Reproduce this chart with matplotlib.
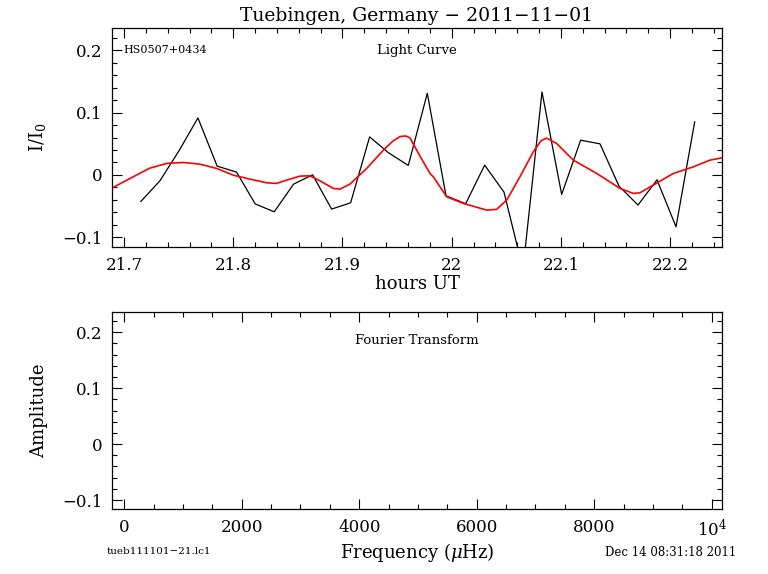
import matplotlib
matplotlib.use("Agg")
import matplotlib.pyplot as plt
from matplotlib.ticker import MultipleLocator, FixedLocator

plt.rcParams['font.family'] = 'DejaVu Serif'
plt.rcParams['mathtext.fontset'] = 'dejavuserif'

# light curve samples (hours UT, I/I0)
lc_time = [21.7155, 21.7329, 21.7503, 21.7677, 21.7853, 21.8031, 21.8201, 21.8375,
           21.8553, 21.8727, 21.8901, 21.9075, 21.9249, 21.9423, 21.9603, 21.9777,
           21.9948, 22.0128, 22.0302, 22.0479, 22.0653, 22.0827, 22.1007, 22.1181,
           22.1358, 22.1532, 22.1706, 22.1880, 22.2054, 22.2225]
lc_flux = [-0.0427, -0.0096, 0.0385, 0.0915, 0.0140, 0.0043, -0.0467, -0.0595,
           -0.0149, 0.0000, -0.0551, -0.0449, 0.0610, 0.0353, 0.0151, 0.1311,
           -0.0337, -0.0465, 0.0156, -0.0278, -0.1520, 0.1332, -0.0315, 0.0557,
           0.0498, -0.0181, -0.0486, -0.0080, -0.0835, 0.0851]

# smoothed fit (red)
fit_time = [21.6901, 21.7084, 21.7237, 21.7390, 21.7542, 21.7695, 21.7848, 21.8000,
            21.8153, 21.8306, 21.8397, 21.8489, 21.8611, 21.8702, 21.8794, 21.8916,
            21.8977, 21.9069, 21.9222, 21.9374, 21.9460, 21.9527, 21.9580, 21.9618,
            21.9710, 21.9802, 21.9832, 21.9954, 22.0106, 22.0321, 22.0412, 22.0504,
            22.0625, 22.0747, 22.0820, 22.0870, 22.0961, 22.1114, 22.1328, 22.1541,
            22.1663, 22.1724, 22.1846, 22.2029, 22.2212, 22.2365, 22.2473]
fit_flux = [-0.0202, -0.0032, 0.0108, 0.0183, 0.0199, 0.0172, 0.0103, -0.0005,
            -0.0069, -0.0128, -0.0138, -0.0085, -0.0021, -0.0016, -0.0096, -0.0218,
            -0.0230, -0.0149, 0.0103, 0.0396, 0.0540, 0.0615, 0.0625, 0.0595,
            0.0300, 0.0022, -0.0032, -0.0353, -0.0459, -0.0567, -0.0555, -0.0406,
            -0.0032, 0.0369, 0.0550, 0.0590, 0.0504, 0.0236, 0.0022, -0.0218,
            -0.0299, -0.0289, -0.0165, 0.0022, 0.0128, 0.0236, 0.0273]

y_ticks = [-0.1, 0, 0.1, 0.2]
y_labels = ['\u22120.1', '0', '0.1', '0.2']
hr_ticks = [21.7, 21.8, 21.9, 22.0, 22.1, 22.2]
hr_labels = ['21.7', '21.8', '21.9', '22', '22.1', '22.2']
freq_ticks = [0, 2000, 4000, 6000, 8000, 10000]
freq_labels = ['0', '2000', '4000', '6000', '8000', '$10^4$']


def style_axes(ax):
    ax.tick_params(which='both', direction='in', top=True, right=True,
                   labelsize=12, width=0.8)
    ax.tick_params(which='major', length=7, pad=7)
    ax.tick_params(which='minor', length=3.5)
    for s in ax.spines.values():
        s.set_linewidth(0.9)
    ax.set_ylim(-0.116, 0.236)
    ax.yaxis.set_major_locator(FixedLocator(y_ticks))
    ax.set_yticklabels(y_labels)
    ax.yaxis.set_minor_locator(MultipleLocator(0.02))


fig = plt.figure(figsize=(7.68, 5.74), dpi=100)
ax1 = fig.add_axes([0.1458, 0.5697, 0.7943, 0.3815])
ax2 = fig.add_axes([0.1458, 0.1132, 0.7943, 0.3432])

# top: light curve
ax1.plot(lc_time, lc_flux, color='black', linewidth=0.9)
ax1.plot(fit_time, fit_flux, color='red', linewidth=1.2)
style_axes(ax1)
ax1.set_xlim(21.689, 22.2475)
ax1.xaxis.set_major_locator(FixedLocator(hr_ticks))
ax1.set_xticklabels(hr_labels)
ax1.xaxis.set_minor_locator(MultipleLocator(0.02))
ax1.set_xlabel('hours UT', fontsize=13, labelpad=1)
ax1.set_ylabel('I/I$_0$', fontsize=13, labelpad=10)
ax1.set_title('Tuebingen, Germany \u2212 2011\u221211\u221201', fontsize=13.5, pad=5)
ax1.text(0.018, 0.2, 'HS0507+0434', fontsize=8, ha='left', va='center',
         transform=ax1.get_yaxis_transform())
ax1.text(0.5, 0.2, 'Light Curve', fontsize=9.5, ha='center', va='center',
         transform=ax1.get_yaxis_transform())

# bottom: fourier transform (empty)
style_axes(ax2)
ax2.set_xlim(-208, 10175)
ax2.xaxis.set_major_locator(FixedLocator(freq_ticks))
ax2.set_xticklabels(freq_labels)
ax2.xaxis.set_minor_locator(MultipleLocator(500))
ax2.set_xlabel('Frequency ($\\mu$Hz)', fontsize=13, labelpad=1)
ax2.set_ylabel('Amplitude', fontsize=13, labelpad=10)
ax2.text(0.5, 0.185, 'Fourier Transform', fontsize=9.5, ha='center', va='center',
         transform=ax2.get_yaxis_transform())

fig.text(107 / 768, 1 - 552 / 574, 'tueb111101\u221221.lc1', fontsize=7.5,
         ha='left', va='center')
fig.text(736 / 768, 1 - 552 / 574, 'Dec 14 08:31:18 2011', fontsize=8.5,
         ha='right', va='center')

fig.savefig('out.png', dpi=100)
